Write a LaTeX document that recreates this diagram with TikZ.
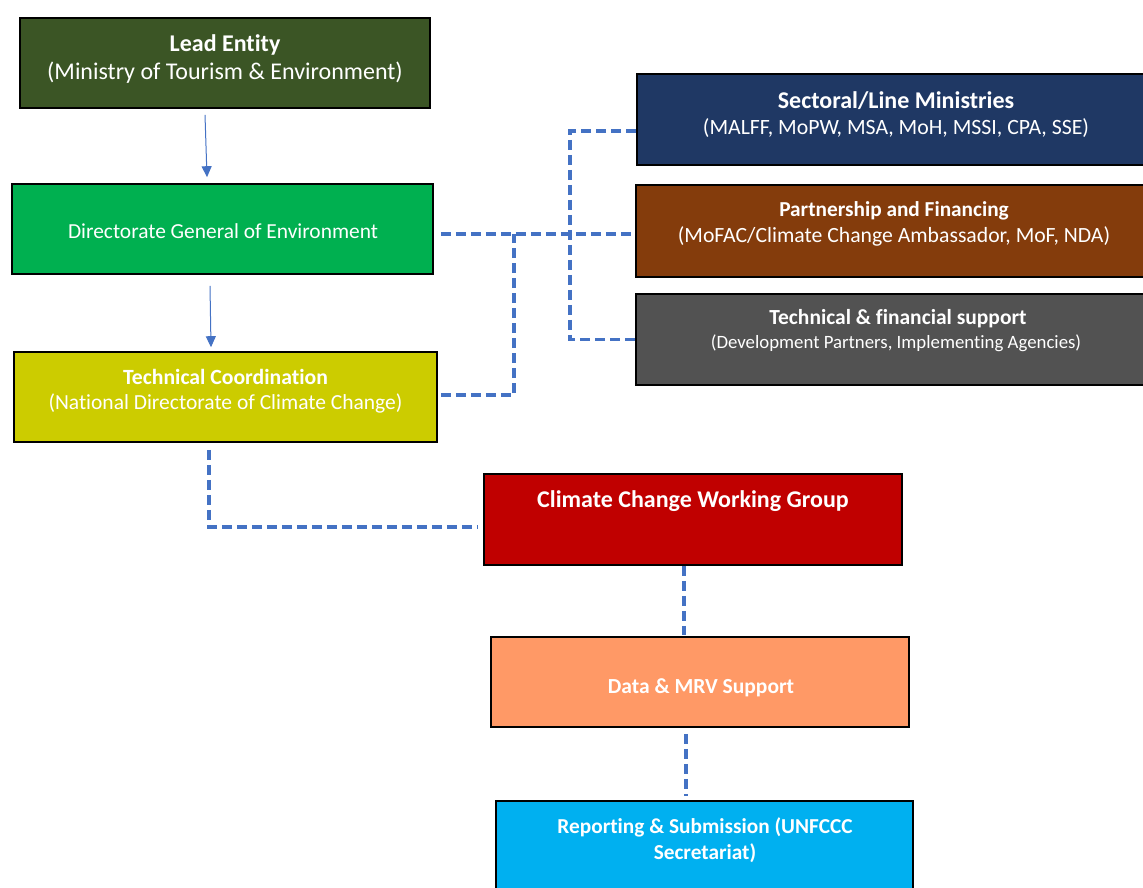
\documentclass[tikz,border=0pt]{standalone}
\usepackage{fontspec}
\setmainfont{Carlito}[Ligatures=NoCommon]
\usetikzlibrary{arrows.meta}
\definecolor{leadgreen}{HTML}{3B5525}
\definecolor{dggreen}{HTML}{00B050}
\definecolor{tcyellow}{HTML}{CCCC00}
\definecolor{navy}{HTML}{1F3864}
\definecolor{brownbox}{HTML}{843C0C}
\definecolor{greybox}{HTML}{525252}
\definecolor{redbox}{HTML}{C00000}
\definecolor{orangebox}{HTML}{FF9966}
\definecolor{cyanbox}{HTML}{00B0F0}
\definecolor{linkblue}{HTML}{4472C4}
\newcommand{\fs}[1]{\fontsize{#1}{#1}\selectfont}
\tikzset{
  box/.style={draw=black, line width=1.6pt, rectangle, inner sep=0pt},
  txt/.style={text=white, inner sep=0pt, align=center},
  arr/.style={draw=linkblue, line width=1pt, -{Triangle[length=11pt,width=10pt]}},
  dsh/.style={draw=linkblue, line width=3.2pt, dash pattern=on 10pt off 5pt},
}
\begin{document}
\begin{tikzpicture}[x=1pt,y=-1pt]
\useasboundingbox (0,0) rectangle (1143,888);
\clip (0,0) rectangle (1143,888);
% boxes
\node[box, fill=leadgreen, minimum width=410pt, minimum height=90pt] (lead) at (225,63) {};
\node[box, fill=dggreen, minimum width=421pt, minimum height=90pt] (dg) at (222.5,229) {};
\node[box, fill=tcyellow, minimum width=423pt, minimum height=90pt] (tc) at (225.5,397) {};
\node[box, fill=navy, minimum width=520pt, minimum height=91pt] (sect) at (897,119.5) {};
\node[box, fill=brownbox, minimum width=522pt, minimum height=92pt] (part) at (897,231) {};
\node[box, fill=greybox, minimum width=522pt, minimum height=91pt] (tech) at (897,339.5) {};
\node[box, fill=redbox, minimum width=418pt, minimum height=91pt] (ccwg) at (693,519.5) {};
\node[box, fill=orangebox, minimum width=418pt, minimum height=90pt] (data) at (700,682) {};
\node[box, fill=cyanbox, minimum width=417pt, minimum height=92pt] (rep) at (704.5,847) {};
% texts
\node[txt, font=\fs{24}\bfseries] (lead-t1) at (225,45) {Lead Entity};
\node[txt, font=\fs{24}] (lead-t2) at (225,73) {(Ministry of Tourism \& Environment)};
\node[txt, font=\fs{21.4}] (dg-t) at (223,231) {Directorate General of Environment};
\node[txt, font=\fs{21.7}\bfseries] (tc-t1) at (225.5,377) {Technical Coordination};
\node[txt, font=\fs{21.5}] (tc-t2) at (225.5,403) {(National Directorate of Climate Change)};
\node[txt, font=\fs{24}\bfseries] (sect-t1) at (896,101) {Sectoral/Line Ministries};
\node[txt, font=\fs{21.8}] (sect-t2) at (896,128) {(MALFF, MoPW, MSA, MoH, MSSI, CPA, SSE)};
\node[txt, font=\fs{21.3}\bfseries] (part-t1) at (894,211) {Partnership and Financing};
\node[txt, font=\fs{21.7}] (part-t2) at (894,236) {(MoFAC/Climate Change Ambassador, MoF, NDA)};
\node[txt, font=\fs{21.5}\bfseries] (tech-t1) at (898,319) {Technical \& financial support};
\node[txt, font=\fs{18.8}] (tech-t2) at (896,343) {(Development Partners, Implementing Agencies)};
\node[txt, font=\fs{24}\bfseries] (ccwg-t) at (693,501) {Climate Change Working Group};
\node[txt, font=\fs{21.5}\bfseries] (data-t) at (701,688) {Data \& MRV Support};
\node[txt, font=\fs{21.3}\bfseries] (rep-t1) at (705,827) {Reporting \& Submission (UNFCCC};
\node[txt, font=\fs{21.3}\bfseries] (rep-t2) at (705,853) {Secretariat)};
% arrows
\draw[arr] ([xshift=-20pt,yshift=-6pt]lead.south) -- ([xshift=-15.5pt,yshift=6pt]dg.north);
\draw[arr] ([xshift=-12.5pt,yshift=-11pt]dg.south) -- ([xshift=-14.5pt,yshift=4pt]tc.north);
% dashed links
\coordinate (j1) at (514,234);
\coordinate (bus) at (570,131);
\draw[dsh] ([xshift=7pt,yshift=-5pt]dg.east) -- ([yshift=-3pt]part.west);
\draw[dsh] ([xshift=3pt,yshift=2pt]tc.east) -| (j1);
\draw[dsh] ([yshift=-11.5pt]sect.west) -- (bus) |- (tech.west);
\draw[dsh] ([xshift=-16.5pt,yshift=-7pt]tc.south) |- ([xshift=-6pt,yshift=-7.5pt]ccwg.west);
\draw[dsh] ([xshift=-9pt]ccwg.south) -- ([xshift=-9pt,yshift=1pt]ccwg.south |- data.north);
\draw[dsh] ([xshift=-14pt,yshift=-6pt]data.south) -- ([xshift=-18.5pt,yshift=4pt]rep.north);
\end{tikzpicture}
\end{document}
